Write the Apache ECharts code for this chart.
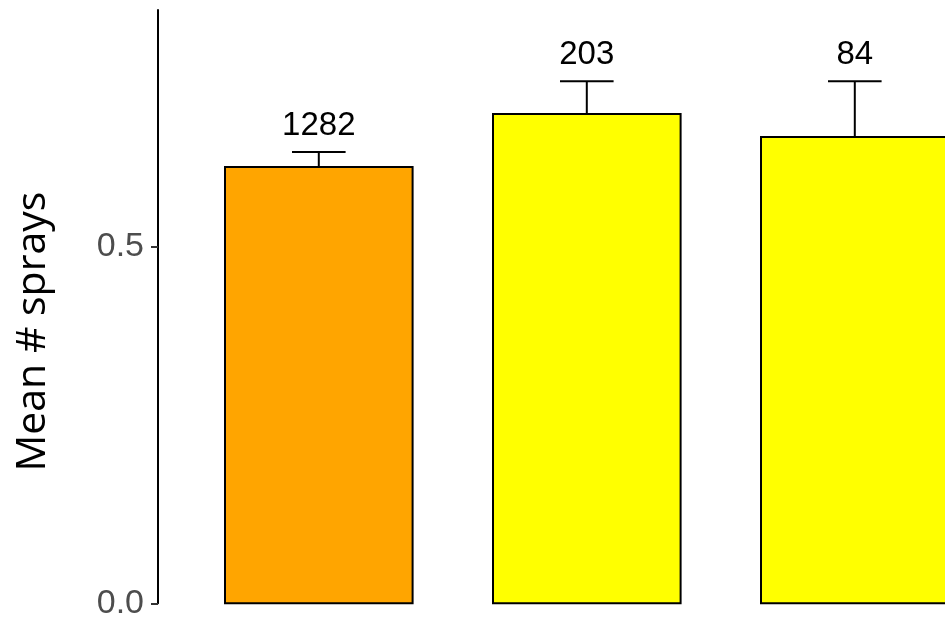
<!DOCTYPE html>
<html>
<head>
<meta charset="utf-8">
<script src="https://cdn.jsdelivr.net/npm/echarts@6/dist/echarts.min.js"></script>
<style>html,body{margin:0;padding:0;background:#fff;}#chart{width:945px;height:622px;}</style>
</head>
<body>
<div id="chart"></div>
<script>
// Data
const groupPositions = [1, 2, 3];
const meanSprays = [0.612, 0.686, 0.654];
const upperError = [0.633, 0.732, 0.732];
const sampleSizes = ['1282', '203', '84'];
const yTickValues = [0, 0.5];

// Styles
const barColors = ['#FFA500', '#FFFF00', '#FFFF00'];

const chart = echarts.init(document.getElementById('chart'), null, {renderer: 'canvas'});

const barData = groupPositions.map((x, i) => [x, meanSprays[i], i]);
const errData = groupPositions.map((x, i) => [x, meanSprays[i], upperError[i], i]);

const option = {
  backgroundColor: '#ffffff',
  animation: false,
  grid: {left: 158, top: 10, bottom: 18.7, width: 857.6, containLabel: false, outerBoundsMode: 'none'},
  xAxis: {
    type: 'value', min: 0.4, max: 3.6, show: false,
    splitLine: {show: false}
  },
  yAxis: {
    type: 'value', min: 0, max: 0.832,
    name: 'Mean # sprays', nameLocation: 'middle', nameGap: 104,
    nameTextStyle: {fontFamily: 'Open Sans', fontSize: 41, color: '#000', padding: [0, 50, 0, 0]},
    axisLine: {show: true, lineStyle: {color: '#000', width: 2}},
    axisTick: {show: true, length: 7, lineStyle: {color: '#333', width: 2}, customValues: yTickValues},
    axisLabel: {show: true, customValues: yTickValues, margin: 14, color: '#4D4D4D',
      fontFamily: 'Liberation Sans', fontSize: 34,
      formatter: v => v.toFixed(1)},
    splitLine: {show: false}
  },
  series: [
    {
      type: 'custom',
      data: errData,
      z: 1,
      clip: false,
      renderItem: function (params, api) {
        const x = api.value(0);
        const top = api.coord([x, api.value(2)]);
        const mid = api.coord([x, api.value(1)]);
        const half = api.size([0.2, 0])[0] / 2;
        return {
          type: 'group',
          children: [
            {type: 'line', shape: {x1: top[0], y1: top[1], x2: mid[0], y2: mid[1]},
              style: {stroke: '#000', lineWidth: 2}},
            {type: 'line', shape: {x1: top[0] - half, y1: top[1], x2: top[0] + half, y2: top[1]},
              style: {stroke: '#000', lineWidth: 2}}
          ]
        };
      }
    },
    {
      type: 'custom',
      data: barData,
      z: 2,
      clip: false,
      renderItem: function (params, api) {
        const x = api.value(0);
        const idx = api.value(2);
        const top = api.coord([x, api.value(1)]);
        const base = api.coord([x, 0]);
        const w = api.size([0.7, 0])[0];
        return {
          type: 'rect',
          shape: {x: top[0] - w / 2, y: top[1], width: w, height: base[1] - top[1]},
          style: {fill: barColors[idx], stroke: '#000', lineWidth: 2}
        };
      }
    },
    {
      type: 'custom',
      data: errData,
      z: 3,
      clip: false,
      renderItem: function (params, api) {
        const x = api.value(0);
        const idx = api.value(3);
        const top = api.coord([x, api.value(2)]);
        return {
          type: 'text',
          x: top[0], y: top[1] - 26,
          style: {text: sampleSizes[idx], align: 'center', verticalAlign: 'middle',
            fontFamily: 'Liberation Sans', fontSize: 33, fill: '#000'}
        };
      }
    }
  ]
};
chart.setOption(option);
</script>
</body>
</html>
